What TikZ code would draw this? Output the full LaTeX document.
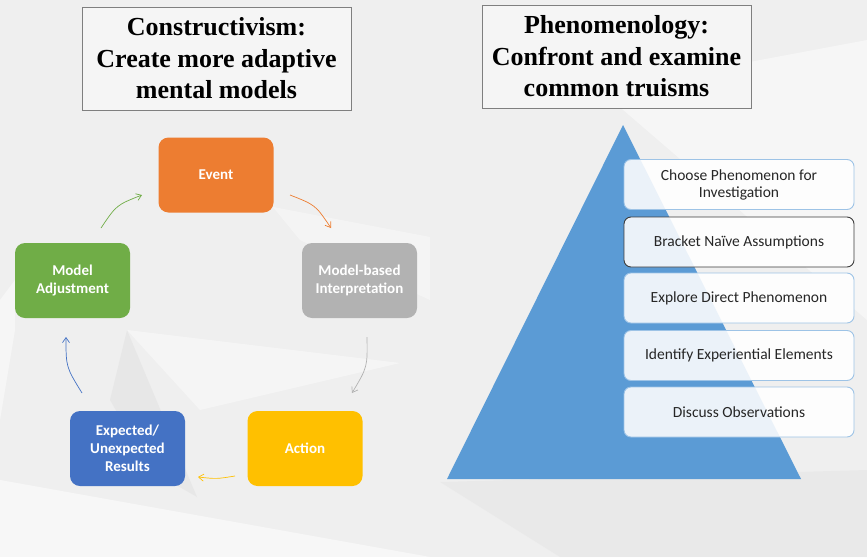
\documentclass[tikz,border=0pt]{standalone}
\usepackage{fontspec}
\setmainfont{Liberation Serif}
\newfontfamily\calibri{Carlito}
\usetikzlibrary{arrows.meta}

\definecolor{bgray}{HTML}{EFEFEF}
\definecolor{facetdark}{HTML}{DADADA}
\definecolor{evorange}{HTML}{ED7D31}
\definecolor{mbgray}{HTML}{B2B2B2}
\definecolor{actgold}{HTML}{FFC000}
\definecolor{resblue}{HTML}{4472C4}
\definecolor{adjgreen}{HTML}{70AD47}
\definecolor{pyrblue}{HTML}{5B9BD5}
\definecolor{stepedge}{HTML}{9DC3E6}
\definecolor{titleedge}{HTML}{7F7F7F}
\definecolor{inkdark}{HTML}{262626}

\tikzset{
  titlebox/.style={draw=titleedge, line width=0.9pt, fill=bgray!60!white,
    minimum width=269, minimum height=103, inner sep=0pt, align=center,
    font=\fontsize{26}{31.5}\selectfont\bfseries, text=black},
  cyclebox/.style={rounded corners=10pt, minimum width=115, minimum height=75,
    inner sep=0pt, align=center, text=white,
    font=\calibri\fontsize{15}{18}\selectfont\bfseries},
  stepbox/.style={draw=stepedge, line width=0.9pt, fill=white, fill opacity=0.88,
    text opacity=1, rounded corners=7pt, minimum width=230, minimum height=50,
    inner sep=0pt, align=center, text=inkdark,
    font=\calibri\fontsize{15.5}{17}\selectfont},
  cyclearrow/.style={line width=0.7pt, -{Straight Barb[length=5pt,width=7pt]}}
}

\begin{document}
\begin{tikzpicture}[x=1pt,y=-1pt]
\useasboundingbox (0,0) rectangle (867,557);

% background with faint facets
\fill[bgray] (0,0) rectangle (867,557);
\fill[white,opacity=0.4] (127,330) -- (400,363) -- (200,410) -- cycle;
\fill[facetdark,opacity=0.35] (127,330) -- (197,497) -- (150,470) -- (110,400) -- cycle;
\fill[white,opacity=0.55] (0,480) -- (430,557) -- (0,557) -- cycle;
\fill[white,opacity=0.45] (600,90) -- (867,40) -- (867,320) -- cycle;
\fill[white,opacity=0.35] (273,207) -- (430,237) -- (430,300) -- (300,240) -- cycle;
\fill[facetdark,opacity=0.25] (440,482) -- (867,470) -- (867,557) -- (560,557) -- cycle;
\fill[white,opacity=0.45] (0,300) -- (15,280) -- (15,330) -- (0,420) -- cycle;

% headings
\node[titlebox] (tc) at (216.5,58.5) {Constructivism:\\Create more adaptive\\mental models};
\node[titlebox] (tp) at (616.5,56.5) {Phenomenology:\\Confront and examine\\common truisms};

% learning cycle
\node[cyclebox, fill=evorange] (ev) at (216,175) {Event};
\node[cyclebox, fill=mbgray]   (mb) at (359.5,280.5) {Model-based\\Interpretation};
\node[cyclebox, fill=actgold]  (ac) at (305,448.5) {Action};
\node[cyclebox, fill=resblue]  (rs) at (127.5,448.5) {Expected/\\Unexpected\\Results};
\node[cyclebox, fill=adjgreen] (ma) at (72.5,280.5) {Model\\Adjustment};

\coordinate (g1) at (101,228); \coordinate (g2) at (142,195);
\coordinate (o1) at (290,195); \coordinate (o2) at (331,228);
\coordinate (s1) at (367,337); \coordinate (s2) at (352,393);
\coordinate (y1) at (235,476); \coordinate (y2) at (198,477);
\coordinate (b1) at (82,393);  \coordinate (b2) at (66,337);

\draw[cyclearrow, draw=adjgreen] (g1) .. controls (116.5,205) .. (g2);
\draw[cyclearrow, draw=evorange] (o1) .. controls (315.5,205) .. (o2);
\draw[cyclearrow, draw=mbgray]   (s1) .. controls (367.5,367) .. (s2);
\draw[cyclearrow, draw=actgold]  (y1) .. controls (216.5,479) .. (y2);
\draw[cyclearrow, draw=resblue]  (b1) .. controls (66,367) .. (b2);

% phenomenology pyramid
\fill[pyrblue] (623,125) -- (801,479) -- (447,479) -- cycle;

\node[stepbox] (p1) at (739,184.5) {Choose Phenomenon for\\Investigation};
\node[stepbox, draw=inkdark!90] (p2) at (739,242) {Bracket Naïve Assumptions};
\node[stepbox] (p3) at (739,298) {Explore Direct Phenomenon};
\node[stepbox] (p4) at (739,355.5) {Identify Experiential Elements};
\node[stepbox] (p5) at (739,412) {Discuss Observations};
\end{tikzpicture}
\end{document}
